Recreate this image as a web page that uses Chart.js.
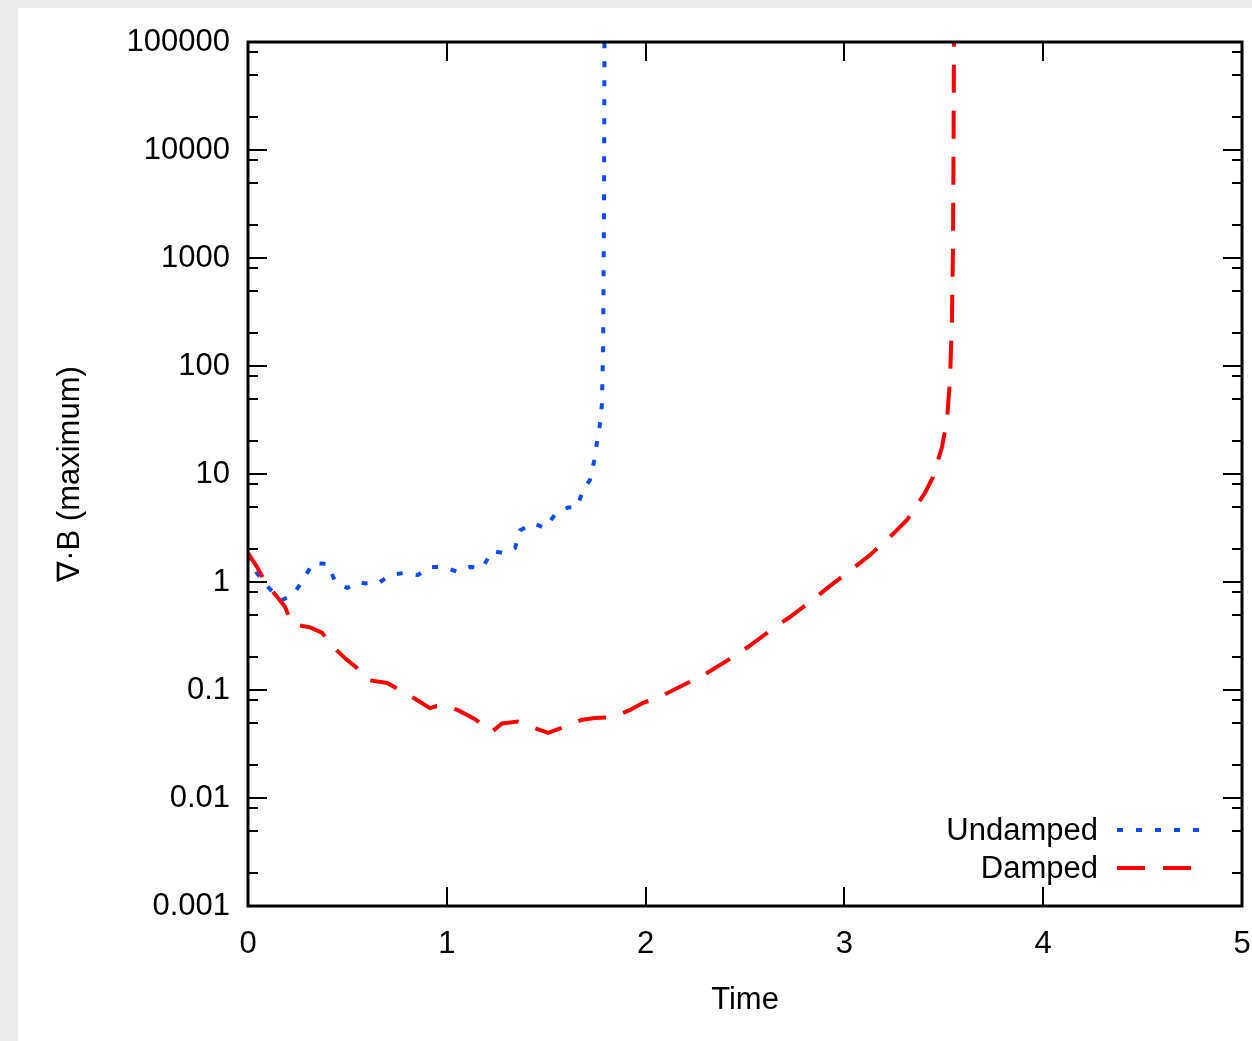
<!DOCTYPE html>
<html>
<head>
<meta charset="utf-8">
<script src="https://cdn.jsdelivr.net/npm/chart.js@4.4.1/dist/chart.umd.min.js"></script>
<style>
  html, body { margin: 0; padding: 0; background: #ebebeb; }
  #wrap { position: relative; width: 1252px; height: 1041px; }
  canvas { display: block; }
</style>
</head>
<body>
<div id="wrap"><canvas id="chart" width="1252" height="1041"></canvas></div>
<script>
// Time values and max div B
const undampedT = [0, 0.045, 0.11, 0.17, 0.226, 0.277, 0.327, 0.40, 0.44, 0.50, 0.553, 0.59, 0.624, 0.654,
  0.714, 0.78, 0.855, 0.915, 0.98, 1.056, 1.117, 1.18, 1.227, 1.283, 1.343, 1.368, 1.434, 1.494, 1.544,
  1.61, 1.655, 1.685, 1.72, 1.74, 1.755, 1.77, 1.78, 1.786, 1.788, 1.791, 1.793, 1.795];
const undampedV = [1.8, 1.21, 0.86, 0.68, 0.76, 1.04, 1.5, 1.47, 1.0, 0.88, 1.0, 0.97, 0.98, 0.97,
  1.16, 1.21, 1.16, 1.38, 1.38, 1.24, 1.38, 1.35, 1.94, 1.86, 2.06, 3.0, 3.5, 3.16, 4.2,
  4.9, 4.9, 7.1, 8.8, 12.9, 19.4, 28.5, 43.6, 140, 410, 3450, 100000, 300000];

const dampedT = [0, 0.045, 0.086, 0.146, 0.186, 0.221, 0.312, 0.372, 0.428, 0.498, 0.548, 0.60, 0.70, 0.78,
  0.84, 0.915, 0.95, 1.0, 1.056, 1.14, 1.227, 1.278, 1.358, 1.434, 1.51, 1.595, 1.68, 1.745, 1.836,
  1.92, 1.987, 2.07, 2.173, 2.309, 2.44, 2.515, 2.651, 2.726, 2.852, 2.928, 3.053, 3.129, 3.244,
  3.315, 3.405, 3.446, 3.491, 3.516, 3.531, 3.541, 3.546, 3.549, 3.551, 3.553];
const dampedV = [1.85, 1.38, 1.0, 0.73, 0.59, 0.41, 0.38, 0.34, 0.25, 0.19, 0.16, 0.124, 0.116, 0.096,
  0.083, 0.068, 0.071, 0.071, 0.065, 0.054, 0.041, 0.049, 0.051, 0.045, 0.040, 0.046, 0.053, 0.055, 0.056,
  0.065, 0.076, 0.086, 0.107, 0.144, 0.202, 0.25, 0.383, 0.474, 0.71, 0.92, 1.38, 1.78, 2.78,
  3.75, 6.67, 9.4, 17.8, 31.6, 74, 268, 1180, 10000, 100000, 300000];

const xTicks = [0, 1, 2, 3, 4, 5];
const yTicks = [0.001, 0.01, 0.1, 1, 10, 100, 1000, 10000, 100000];
const yMinorMult = [2, 5, 8];
const seriesNames = ['Undamped', 'Damped'];

const FONT = '"Liberation Sans", Arial, Helvetica, sans-serif';
const BLUE = '#0a4bff';
const RED = '#ff0000';

function toPoints(ts, vs) {
  return ts.map((t, i) => ({ x: t, y: vs[i] }));
}

// gray page with white panel
const backdrop = {
  id: 'backdrop',
  beforeDraw(chart) {
    const c = chart.ctx;
    c.save();
    c.fillStyle = '#ebebeb';
    c.fillRect(0, 0, chart.width, chart.height);
    c.fillStyle = '#ffffff';
    c.fillRect(18, 8, chart.width - 18, chart.height - 8);
    c.restore();
  }
};

// gnuplot-like border with inward mirrored ticks
const frame = {
  id: 'frame',
  afterDatasetsDraw(chart) {
    const c = chart.ctx;
    const a = chart.chartArea;
    const xs = chart.scales.x;
    const ys = chart.scales.y;
    const major = 19, minor = 10;
    c.save();
    c.strokeStyle = '#000';
    c.lineWidth = 2;
    c.beginPath();
    xTicks.forEach(v => {
      const px = Math.round(xs.getPixelForValue(v));
      c.moveTo(px, a.bottom); c.lineTo(px, a.bottom - major);
      c.moveTo(px, a.top); c.lineTo(px, a.top + major);
    });
    yTicks.forEach(v => {
      const py = Math.round(ys.getPixelForValue(v));
      c.moveTo(a.left, py); c.lineTo(a.left + major, py);
      c.moveTo(a.right, py); c.lineTo(a.right - major, py);
    });
    yTicks.slice(0, -1).forEach(d => {
      yMinorMult.forEach(m => {
        const py = Math.round(ys.getPixelForValue(d * m));
        c.moveTo(a.left, py); c.lineTo(a.left + minor, py);
        c.moveTo(a.right, py); c.lineTo(a.right - minor, py);
      });
    });
    c.stroke();
    c.lineWidth = 3;
    c.strokeRect(a.left, a.top, a.right - a.left, a.bottom - a.top);
    c.restore();
  }
};

// key in the lower right corner
const key = {
  id: 'key',
  afterDraw(chart) {
    const c = chart.ctx;
    const rows = [{ y: 830 }, { y: 868 }];
    c.save();
    c.font = '31px ' + FONT;
    c.textAlign = 'right';
    c.textBaseline = 'middle';
    chart.data.datasets.forEach((ds, i) => {
      const y = rows[i].y;
      c.fillStyle = '#000';
      c.fillText(ds.label, 1098, y + 1);
      c.strokeStyle = ds.borderColor;
      c.lineWidth = ds.borderWidth;
      c.setLineDash(ds.borderDash);
      c.lineCap = 'butt';
      c.beginPath();
      c.moveTo(1117, y);
      c.lineTo(1203, y);
      c.stroke();
    });
    c.restore();
  }
};

Chart.defaults.font.family = FONT;
Chart.defaults.font.size = 31;
Chart.defaults.color = '#000';

new Chart(document.getElementById('chart'), {
  type: 'line',
  data: {
    datasets: [
      {
        label: seriesNames[0],
        data: toPoints(undampedT, undampedV),
        borderColor: BLUE,
        borderWidth: 4,
        borderDash: [6, 13],
        pointRadius: 0,
        tension: 0,
        fill: false,
        order: 1
      },
      {
        label: seriesNames[1],
        data: toPoints(dampedT, dampedV),
        borderColor: RED,
        borderWidth: 4,
        borderDash: [28, 18],
        pointRadius: 0,
        tension: 0,
        fill: false,
        order: 0
      }
    ]
  },
  options: {
    responsive: false,
    animation: false,
    events: [],
    layout: { padding: { top: 42, right: 10, left: 0, bottom: 0 } },
    plugins: {
      legend: { display: false },
      tooltip: { enabled: false }
    },
    scales: {
      x: {
        type: 'linear',
        min: 0,
        max: 5,
        afterBuildTicks: s => { s.ticks = xTicks.map(v => ({ value: v })); },
        afterFit: s => { s.height = 135; s.paddingLeft = 0; s.paddingRight = 0; },
        grid: { display: false, drawTicks: false },
        border: { display: false },
        ticks: { padding: 20, maxRotation: 0, callback: v => String(v) },
        title: { display: true, text: 'Time', padding: { top: 0, bottom: 22 } }
      },
      y: {
        type: 'logarithmic',
        min: 0.001,
        max: 100000,
        afterBuildTicks: s => { s.ticks = yTicks.map(v => ({ value: v })); },
        afterFit: s => { s.width = 248; s.paddingTop = 0; s.paddingBottom = 0; },
        grid: { display: false, drawTicks: false },
        border: { display: false },
        ticks: { padding: 18, autoSkip: false, callback: v => String(v) },
        title: { display: true, text: '∇·B (maximum)', padding: { top: 52, bottom: 0 } }
      }
    }
  },
  plugins: [backdrop, frame, key]
});
</script>
</body>
</html>
